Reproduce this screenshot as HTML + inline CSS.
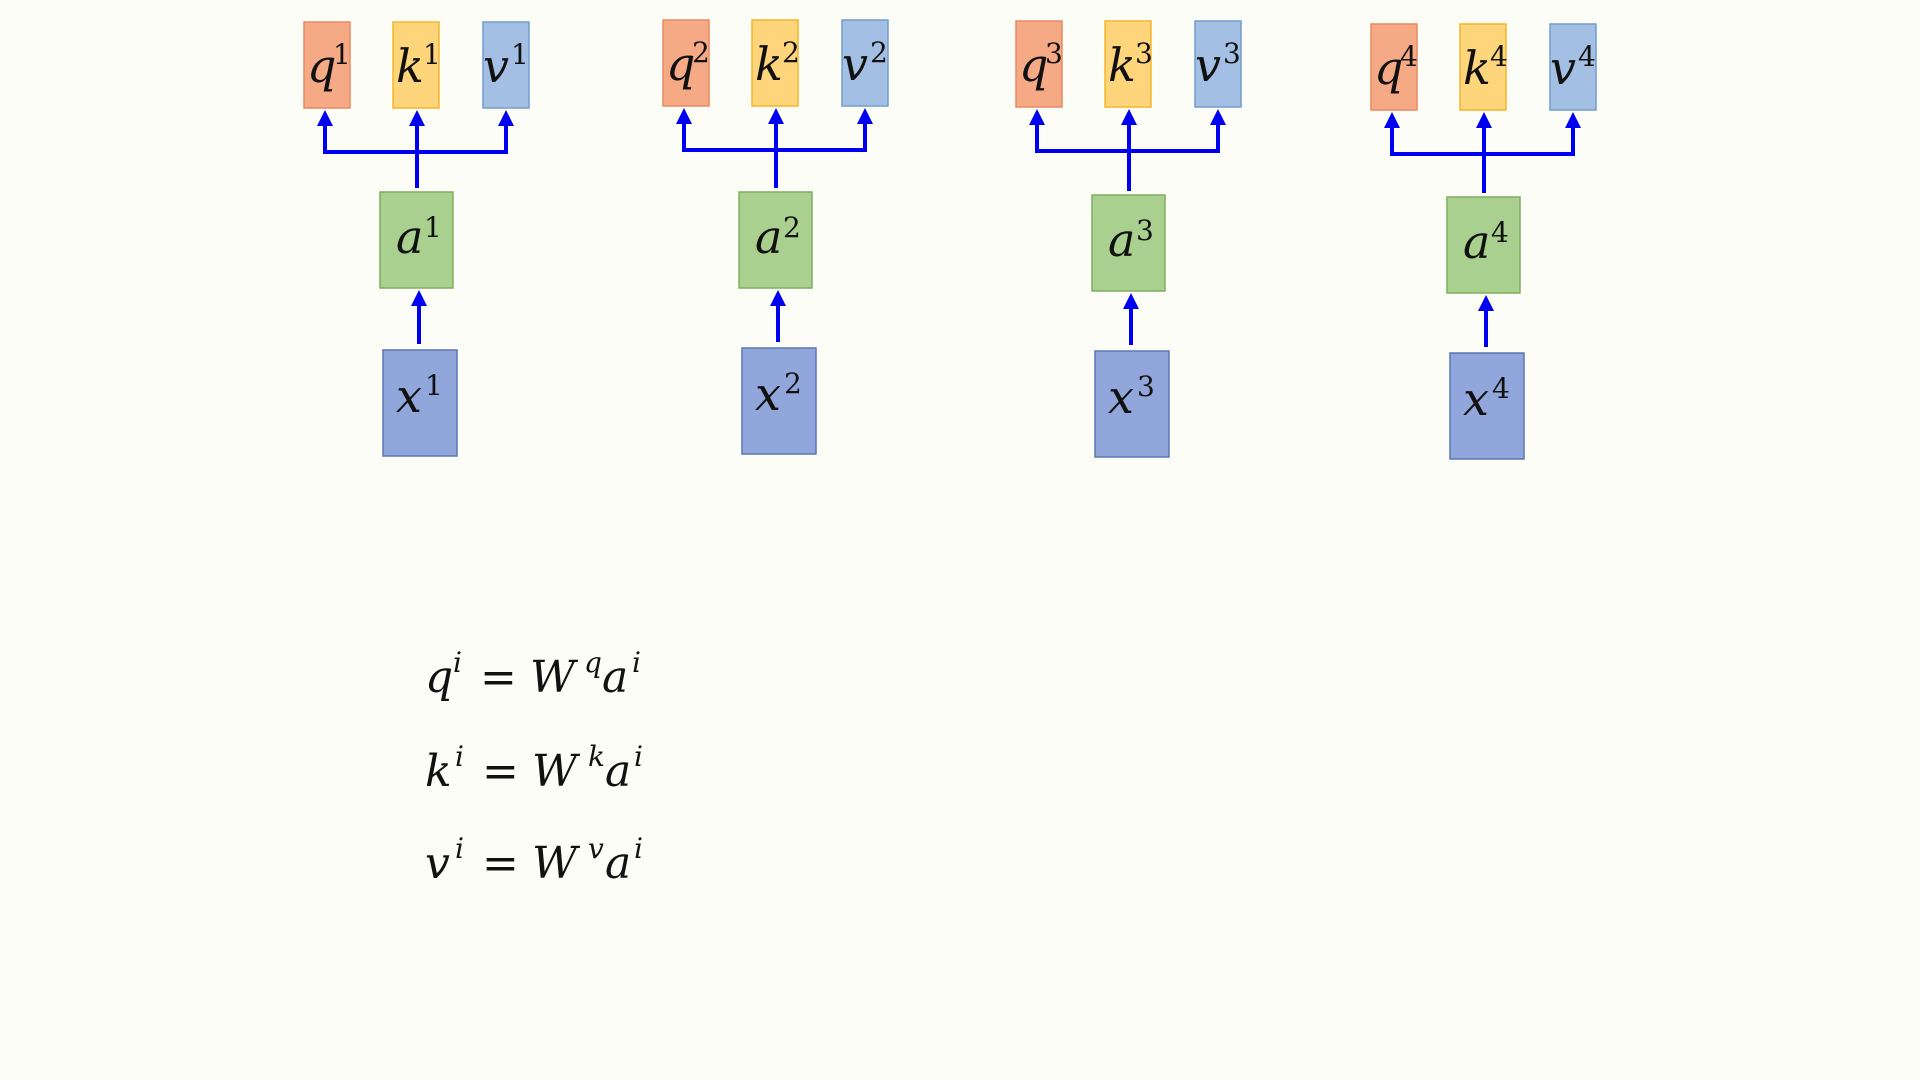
<!DOCTYPE html>
<html><head><meta charset="utf-8"><style>
html,body{margin:0;padding:0;background:#fdfdf8;}
svg{display:block;}
text{font-family:"DejaVu Serif","Liberation Serif",serif;fill:#111;}
.it{font-style:italic;}
</style></head><body>
<svg id="diagram" width="1920" height="1080" viewBox="0 0 1920 1080" xmlns="http://www.w3.org/2000/svg">
<defs>
<marker id="ah" markerWidth="4" markerHeight="4" refX="2" refY="2" orient="auto" markerUnits="strokeWidth"><path d="M0,0 L4,2 L0,4 Z" fill="#0000f0"/></marker>
</defs>
<g id="groups"></g>
<g id="equations">
<g>
<text class="it" x="425" y="692" font-size="44">q</text><text class="it" x="453" y="672" font-size="28">i</text>
<text x="480" y="692" font-size="44">=</text>
<text class="it" x="530" y="692" font-size="44">W</text><text class="it" x="584" y="672" font-size="28">q</text>
<text class="it" x="602" y="692" font-size="44">a</text><text class="it" x="632" y="672" font-size="28">i</text>
</g>
<g>
<text class="it" x="425" y="786" font-size="44">k</text><text class="it" x="455" y="766" font-size="28">i</text>
<text x="482" y="786" font-size="44">=</text>
<text class="it" x="532" y="786" font-size="44">W</text><text class="it" x="588" y="766" font-size="28">k</text>
<text class="it" x="605" y="786" font-size="44">a</text><text class="it" x="634" y="766" font-size="28">i</text>
</g>
<g>
<text class="it" x="425" y="878" font-size="44">v</text><text class="it" x="455" y="858" font-size="28">i</text>
<text x="482" y="878" font-size="44">=</text>
<text class="it" x="532" y="878" font-size="44">W</text><text class="it" x="588" y="858" font-size="28">v</text>
<text class="it" x="605" y="878" font-size="44">a</text><text class="it" x="634" y="858" font-size="28">i</text>
</g>
</g>
</svg>
<script>
const groupIds = [1, 2, 3, 4];
const groupX = [304, 663, 1016, 1371];
const topY = [22, 20, 21, 24];
const aY = [192, 192, 195, 197];
const xY = [350, 348, 351, 353];
const NS = 'http://www.w3.org/2000/svg';
const root = document.getElementById('groups');
function mk(tag, attrs, parent){const e=document.createElementNS(NS,tag);for(const k in attrs)e.setAttribute(k,attrs[k]);parent.appendChild(e);return e;}
function box(parent, x, y, w, h, fill, stroke, letter, sup, name, lx, ly, sx, sy){
  const r = mk('rect',{x:x,y:y,width:w,height:h,fill:fill,stroke:stroke,'stroke-width':1.5},parent);
  
  
  const t = mk('text',{x:x+lx,y:y+ly,'font-size':46,'class':'it'},parent);
  
  
  t.textContent = letter;
  const s = mk('text',{x:x+sx,y:y+sy,'font-size':28},parent);
  
  
  s.textContent = sup;
}
function line(parent,x1,y1,x2,y2,arrow,name){
  const l = mk('line',{x1:x1,y1:y1,x2:x2,y2:y2,stroke:'#0000f0','stroke-width':4},parent);
  if(arrow) l.setAttribute('marker-end','url(#ah)');
  
  
}
groupIds.forEach((id,i)=>{
  const g = mk('g',{},root);
  
  
  const gx = groupX[i], ty = topY[i];
  const cx = gx + 113;
  const hy = ty + 130;
  box(g, gx, ty, 46, 86, '#f6a985', '#e68a62', 'q', id, 'q'+id, 3, 60, 29, 42);
  box(g, gx+89, ty, 46, 86, '#ffd57c', '#f3b52a', 'k', id, 'k'+id, 3, 60, 30, 42);
  box(g, gx+179, ty, 46, 86, '#a3c0e4', '#739dcc', 'v', id, 'v'+id, 0, 60, 28, 42);
  box(g, gx+76, aY[i], 73, 96, '#a9d08e', '#7eae60', 'a', id, 'a'+id, 16, 61, 44, 45);
  box(g, gx+79, xY[i], 74, 106, '#91a6da', '#5c76b6', 'x', id, 'x'+id, 13, 62, 42, 45);
  line(g, cx, aY[i]-4, cx, hy, false, 'trunk-line-'+id);
  line(g, gx+21, hy, gx+202, hy, false, 'branch-line-'+id);
  line(g, gx+21, hy+2, gx+21, ty+96, true, 'arrow-to-q'+id);
  line(g, cx, hy+2, cx, ty+96, true, 'arrow-to-k'+id);
  line(g, gx+202, hy+2, gx+202, ty+96, true, 'arrow-to-v'+id);
  line(g, cx+2, xY[i]-6, cx+2, aY[i]+106, true, 'arrow-x-to-a'+id);
});
</script>
</body></html>
